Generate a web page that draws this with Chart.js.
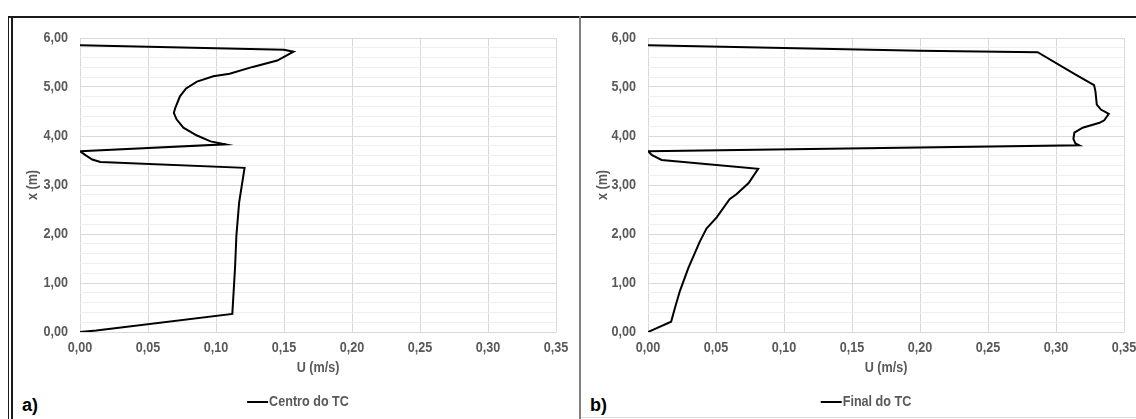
<!DOCTYPE html>
<html>
<head>
<meta charset="utf-8">
<script src="https://cdn.jsdelivr.net/npm/chart.js@4/dist/chart.umd.min.js"></script>
<style>
  html, body { margin: 0; padding: 0; background: #fff; }
  body { width: 1136px; height: 419px; position: relative; overflow: hidden; }
  .cv { position: absolute; }
  .line { position: absolute; }
  .lab { position: absolute; font-family: "Liberation Sans", Arial, sans-serif; font-weight: bold; font-size: 18px; color: #000; line-height: 1; }
</style>
</head>
<body>
<div class="line" style="left:8px; top:16px; width:1128px; height:2px; background:#1a1a1a;"></div>
<div class="line" style="left:8px; top:16px; width:1px; height:403px; background:#1a1a1a;"></div>
<div class="line" style="left:11px; top:16px; width:2px; height:403px; background:#1a1a1a;"></div>
<div class="line" style="left:579px; top:16px; width:2px; height:403px; background:#808080;"></div>
<div class="line" style="left:581px; top:417px; width:555px; height:1px; background:#d9d9d9;"></div>
<div class="lab" style="left:22px; top:396px;">a)</div>
<div class="lab" style="left:590px; top:396px;">b)</div>
<div class="cv" style="left:12px; top:17px; width:566px; height:400px;"><canvas id="cA"></canvas></div>
<div class="cv" style="left:582px; top:17px; width:570px; height:400px;"><canvas id="cB"></canvas></div>
<script>
// ---- data ----
const xTicksU = [0, 0.05, 0.10, 0.15, 0.20, 0.25, 0.30, 0.35];
const yTicksX = [0, 1, 2, 3, 4, 5, 6];

const seriesA = "Centro do TC";
const centroU = [0.000, 0.150, 0.157, 0.145, 0.127, 0.110, 0.098, 0.086, 0.078, 0.0735, 0.070, 0.069, 0.071, 0.076, 0.086, 0.096, 0.107, 0.000, 0.004, 0.009, 0.015, 0.121, 0.117, 0.115, 0.114, 0.112, 0.012, 0.000];
const centroX = [5.85, 5.76, 5.72, 5.54, 5.41, 5.27, 5.22, 5.11, 4.97, 4.81, 4.57, 4.47, 4.34, 4.17, 4.01, 3.89, 3.83, 3.69, 3.61, 3.52, 3.47, 3.35, 2.64, 1.97, 1.31, 0.37, 0.03, 0.00];

const seriesB = "Final do TC";
const finalU = [0.000, 0.200, 0.2865, 0.3135, 0.328, 0.329, 0.330, 0.333, 0.3388, 0.3355, 0.332, 0.3196, 0.3135, 0.3128, 0.3142, 0.3171, 0.000, 0.003, 0.010, 0.081, 0.074, 0.065, 0.060, 0.0505, 0.043, 0.038, 0.0297, 0.0235, 0.020, 0.017, 0.000];
const finalX = [5.85, 5.74, 5.71, 5.27, 5.04, 4.91, 4.64, 4.54, 4.45, 4.32, 4.27, 4.17, 4.07, 3.94, 3.85, 3.81, 3.69, 3.61, 3.51, 3.33, 3.04, 2.81, 2.71, 2.34, 2.11, 1.84, 1.31, 0.84, 0.51, 0.21, 0.00];

const xTitle = "U (m/s)";
const yTitle = "x (m)";

// ---- styling ----
const FONT = '"Liberation Sans", Arial, sans-serif';
const FS = 15;
const SX = 0.84;   // horizontal condensing of text (narrow look)
const GRAY = '#595959';

function fmt(v) { return v.toFixed(2).replace('.', ','); }
function isInt(v) { return Math.abs(v - Math.round(v)) < 1e-6; }

function condenseText(canvas) {
  const ctx = canvas.getContext('2d');
  const orig = ctx.fillText.bind(ctx);
  ctx.fillText = function (text, x, y, maxWidth) {
    ctx.save();
    ctx.translate(x, y);
    ctx.scale(SX, 1);
    if (maxWidth === undefined) orig(text, 0, 0);
    else orig(text, 0, 0, maxWidth / SX);
    ctx.restore();
  };
}

const legendPlugin = {
  id: 'customLegend',
  afterDraw(chart) {
    const ctx = chart.ctx;
    const ca = chart.chartArea;
    const label = chart.data.datasets[0].label;
    ctx.save();
    ctx.font = 'bold ' + FS + 'px ' + FONT;
    const tw = ctx.measureText(label).width * SX;
    const lineLen = 21, gap = 1;
    const total = lineLen + gap + tw;
    const cx = (ca.left + ca.right) / 2 - 20;
    const x0 = cx - total / 2;
    const y = 385;
    ctx.strokeStyle = '#000';
    ctx.lineWidth = 2;
    ctx.beginPath();
    ctx.moveTo(x0, y);
    ctx.lineTo(x0 + lineLen, y);
    ctx.stroke();
    ctx.fillStyle = GRAY;
    ctx.textBaseline = 'middle';
    ctx.textAlign = 'left';
    ctx.fillText(label, x0 + lineLen + gap, y);
    ctx.restore();
  }
};

function makeChart(id, label, us, xs, yAxisWidth, padRight) {
  const canvas = document.getElementById(id);
  condenseText(canvas);
  const pts = us.map((u, i) => ({ x: u, y: xs[i] }));
  return new Chart(canvas, {
    type: 'scatter',
    data: {
      datasets: [{
        label: label,
        data: pts,
        showLine: true,
        borderColor: '#000',
        borderWidth: 2,
        pointRadius: 0,
        pointHoverRadius: 0,
        tension: 0,
        fill: false
      }]
    },
    options: {
      responsive: true,
      maintainAspectRatio: false,
      animation: false,
      events: [],
      layout: { padding: { top: 15, right: padRight, left: 0, bottom: 40 } },
      plugins: { legend: { display: false }, tooltip: { enabled: false } },
      scales: {
        x: {
          type: 'linear',
          min: xTicksU[0],
          max: xTicksU[xTicksU.length - 1],
          afterBuildTicks(scale) { scale.ticks = xTicksU.map(v => ({ value: v })); },
          afterFit(scale) { scale.height = 45; },
          ticks: {
            padding: 7,
            maxRotation: 0,
            autoSkip: false,
            color: GRAY,
            font: { family: FONT, size: FS, weight: 'bold' },
            callback: v => fmt(v)
          },
          grid: { color: '#d9d9d9', lineWidth: 1, drawTicks: false },
          border: { display: false },
          title: {
            display: true, text: xTitle, color: GRAY,
            font: { family: FONT, size: FS, weight: 'bold' },
            padding: { top: 0, bottom: 0 }
          }
        },
        y: {
          type: 'linear',
          min: yTicksX[0],
          max: yTicksX[yTicksX.length - 1],
          afterBuildTicks(scale) {
            const t = [];
            for (let i = 0; i <= 30; i++) t.push({ value: i * 0.2 });
            scale.ticks = t;
          },
          afterFit(scale) { scale.width = yAxisWidth; },
          ticks: {
            padding: 12,
            autoSkip: false,
            color: GRAY,
            font: { family: FONT, size: FS, weight: 'bold' },
            callback: v => (isInt(v) && yTicksX.indexOf(Math.round(v)) >= 0) ? fmt(v) : ''
          },
          grid: {
            drawTicks: false,
            lineWidth: 1,
            color: ctx => (ctx.tick && isInt(ctx.tick.value)) ? '#d9d9d9' : '#efefef'
          },
          border: { display: false },
          title: {
            display: true, text: yTitle, color: GRAY,
            font: { family: FONT, size: FS, weight: 'bold' },
            padding: { top: 12, bottom: 0 }
          }
        }
      }
    },
    plugins: [legendPlugin]
  });
}

makeChart('cA', seriesA, centroU, centroX, 68, 22);
makeChart('cB', seriesB, finalU, finalX, 66, 28);
</script>
</body>
</html>
